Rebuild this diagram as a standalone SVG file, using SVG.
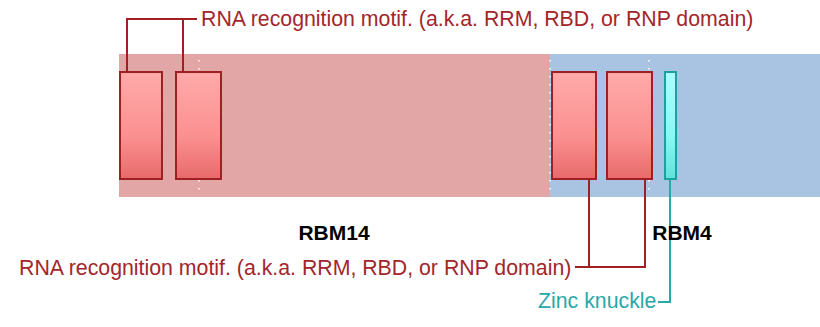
<svg xmlns="http://www.w3.org/2000/svg" width="820" height="327" viewBox="0 0 820 327">
<defs>
<linearGradient id="gRed" x1="0" y1="0" x2="0" y2="1">
<stop offset="0" stop-color="#FFAAAA"/>
<stop offset="0.6" stop-color="#FB9090"/>
<stop offset="1" stop-color="#E86A6A"/>
</linearGradient>
<linearGradient id="gTeal" x1="0" y1="0" x2="0" y2="1">
<stop offset="0" stop-color="#AAFFFF"/>
<stop offset="0.6" stop-color="#88F8F4"/>
<stop offset="1" stop-color="#62E2DC"/>
</linearGradient>
<style>
.rrm{fill:url(#gRed);stroke:#A01F22;stroke-width:2}
.zk{fill:url(#gTeal);stroke:#1FA0A0;stroke-width:2}
.dot{stroke:#FFFFFF;stroke-width:1.5;stroke-dasharray:1.5 6.5;fill:none}
.lr{stroke:#A01F22;stroke-width:2;fill:none}
.lt{stroke:#2AA7A7;stroke-width:2;fill:none}
.tr{font-family:"Liberation Sans",Arial,sans-serif;font-size:21.3px;fill:#A3262A}
.tt{font-family:"Liberation Sans",Arial,sans-serif;font-size:21.3px;fill:#2AA7A7}
.name{font-family:"Liberation Sans",Arial,sans-serif;font-size:21px;font-weight:bold;fill:#000000;text-anchor:middle}
</style>
</defs>
<g id="protein-RBM14">
<rect x="119" y="54" width="431" height="143" fill="#E3A6A6"/>
<line class="dot" x1="199" y1="60" x2="199" y2="196"/>
</g>
<g id="protein-RBM4">
<rect x="550" y="54" width="270" height="143" fill="#A8C4E2"/>
<line class="dot" x1="550" y1="60" x2="550" y2="196"/>
<line class="dot" x1="649" y1="60" x2="649" y2="196"/>
</g>
<g id="connectors">
<polyline class="lr" points="127,71 127,19 197,19"/>
<line class="lr" x1="183" y1="19" x2="183" y2="71"/>
<polyline class="lr" points="589,179 589,267 575,267"/>
<polyline class="lr" points="645,179 645,267 589,267"/>
<polyline class="lt" points="670,179 670,302 658,302"/>
</g>
<g id="rrm1"><rect class="rrm" x="120" y="72" width="42" height="107"/></g>
<g id="rrm2"><rect class="rrm" x="176" y="72" width="45" height="107"/></g>
<g id="rrm3"><rect class="rrm" x="552" y="72" width="44" height="107"/></g>
<g id="rrm4"><rect class="rrm" x="607" y="72" width="45" height="107"/></g>
<g id="zinc-knuckle"><rect class="zk" x="665" y="72" width="11" height="107"/></g>
<g id="label-top"><text class="tr" x="201" y="26">RNA recognition motif. (a.k.a. RRM, RBD, or RNP domain)</text></g>
<g id="label-bottom"><text class="tr" x="19" y="275">RNA recognition motif. (a.k.a. RRM, RBD, or RNP domain)</text></g>
<g id="label-zinc"><text class="tt" x="538" y="308">Zinc knuckle</text></g>
<g id="name-RBM14"><text class="name" x="334" y="240">RBM14</text></g>
<g id="name-RBM4"><text class="name" x="682" y="240">RBM4</text></g>
</svg>
